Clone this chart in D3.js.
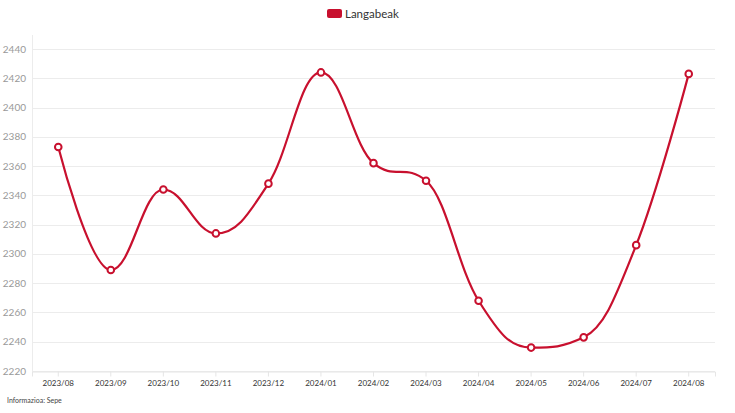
<!DOCTYPE html>
<html>
<head>
<meta charset="utf-8">
<script src="https://cdn.jsdelivr.net/npm/d3@7/dist/d3.min.js"></script>
<style>
  html, body { margin: 0; padding: 0; background: #fff; }
  svg { display: block; font-family: "Source Sans Pro", "Lato", "Noto Sans", sans-serif; }
</style>
</head>
<body>
<svg id="chart" width="735" height="413"></svg>
<script>
const categories = ["2023/08","2023/09","2023/10","2023/11","2023/12","2024/01","2024/02","2024/03","2024/04","2024/05","2024/06","2024/07","2024/08"];
const values = [2373, 2289, 2344, 2314, 2348, 2424, 2362, 2350, 2268, 2236, 2243, 2306, 2423];
const seriesName = "Langabeak";
const yTicks = [2220, 2240, 2260, 2280, 2300, 2320, 2340, 2360, 2380, 2400, 2420, 2440];
const sourceText = "Informazioa: Sepe";

const color = "#c8102e";
const W = 735, H = 413;
const plot = { left: 32, right: 715, top: 35, bottom: 371 };

const svg = d3.select("#chart");

const x = d3.scaleBand().domain(categories).range([plot.left, plot.right]).paddingInner(0).paddingOuter(0);
const y = d3.scaleLinear().domain([2220, 2440]).range([plot.bottom, 49]);

// gridlines
svg.append("g").selectAll("line").data(yTicks).join("line")
  .attr("x1", plot.left).attr("x2", plot.right)
  .attr("y1", d => Math.round(y(d)) + 0.5).attr("y2", d => Math.round(y(d)) + 0.5)
  .attr("stroke", "#ececec").attr("stroke-width", 1);

// y axis line
svg.append("line")
  .attr("x1", plot.left + 0.5).attr("x2", plot.left + 0.5)
  .attr("y1", plot.top).attr("y2", plot.bottom)
  .attr("stroke", "#ececec");

// y labels
svg.append("g").selectAll("text").data(yTicks).join("text")
  .attr("x", 26).attr("y", d => y(d))
  .attr("dy", "0.35em")
  .attr("text-anchor", "end")
  .attr("font-size", 10)
  .attr("fill", "#999")
  .text(d => d);

// x axis
const xAxis = d3.axisBottom(x).tickSize(5).tickPadding(4);
const gx = svg.append("g").attr("transform", `translate(0,${plot.bottom + 0.5})`).call(xAxis);
gx.select(".domain").attr("stroke", "#e6e6e6");
gx.selectAll(".tick line").attr("stroke", "#e6e6e6");
gx.selectAll(".tick text").attr("font-size", 8).attr("fill", "#333")
  .attr("font-family", "\"Source Sans Pro\", \"Lato\", \"Noto Sans\", sans-serif");

// points
const pts = categories.map((c, i) => ({ x: x(c) + x.bandwidth() / 2, y: y(values[i]) }));

// Highcharts-style spline
function splinePath(points) {
  const p = d3.path();
  const smoothing = 1.5, denom = smoothing + 1;
  let prevRight = null;
  points.forEach((pt, i) => {
    if (i === 0) { p.moveTo(pt.x, pt.y); prevRight = null; return; }
    const last = points[i - 1];
    let lcx = pt.x, lcy = pt.y, rcx = null, rcy = null;
    if (i < points.length - 1) {
      const next = points[i + 1];
      lcx = (smoothing * pt.x + last.x) / denom;
      lcy = (smoothing * pt.y + last.y) / denom;
      rcx = (smoothing * pt.x + next.x) / denom;
      rcy = (smoothing * pt.y + next.y) / denom;
      let corr = 0;
      if (rcx !== lcx) corr = ((rcy - lcy) * (rcx - pt.x)) / (rcx - lcx) + pt.y - rcy;
      lcy += corr; rcy += corr;
      if (lcy > last.y && lcy > pt.y) { lcy = Math.max(last.y, pt.y); rcy = 2 * pt.y - lcy; }
      else if (lcy < last.y && lcy < pt.y) { lcy = Math.min(last.y, pt.y); rcy = 2 * pt.y - lcy; }
      if (rcy > next.y && rcy > pt.y) { rcy = Math.max(next.y, pt.y); lcy = 2 * pt.y - rcy; }
      else if (rcy < next.y && rcy < pt.y) { rcy = Math.min(next.y, pt.y); lcy = 2 * pt.y - rcy; }
    }
    const c1x = prevRight ? prevRight[0] : last.x;
    const c1y = prevRight ? prevRight[1] : last.y;
    p.bezierCurveTo(c1x, c1y, lcx, lcy, pt.x, pt.y);
    prevRight = rcx !== null ? [rcx, rcy] : null;
  });
  return p.toString();
}

svg.append("path")
  .attr("d", splinePath(pts))
  .attr("fill", "none")
  .attr("stroke", color)
  .attr("stroke-width", 2.2);

svg.append("g").selectAll("circle").data(pts).join("circle")
  .attr("cx", d => d.x).attr("cy", d => d.y)
  .attr("r", 3.3)
  .attr("fill", "#fff")
  .attr("stroke", color)
  .attr("stroke-width", 2);

// legend
const lg = svg.append("g");
lg.append("rect").attr("x", 327).attr("y", 9).attr("width", 15).attr("height", 9).attr("rx", 2)
  .attr("fill", color);
lg.append("text").attr("x", 345).attr("y", 13.5).attr("dy", "0.35em")
  .attr("font-size", 11.5).attr("fill", "#333").text(seriesName);

// source
svg.append("text").attr("x", 7).attr("y", 401).attr("dy", "0.35em")
  .attr("font-size", 7).attr("fill", "#444").text(sourceText);
</script>
</body>
</html>
